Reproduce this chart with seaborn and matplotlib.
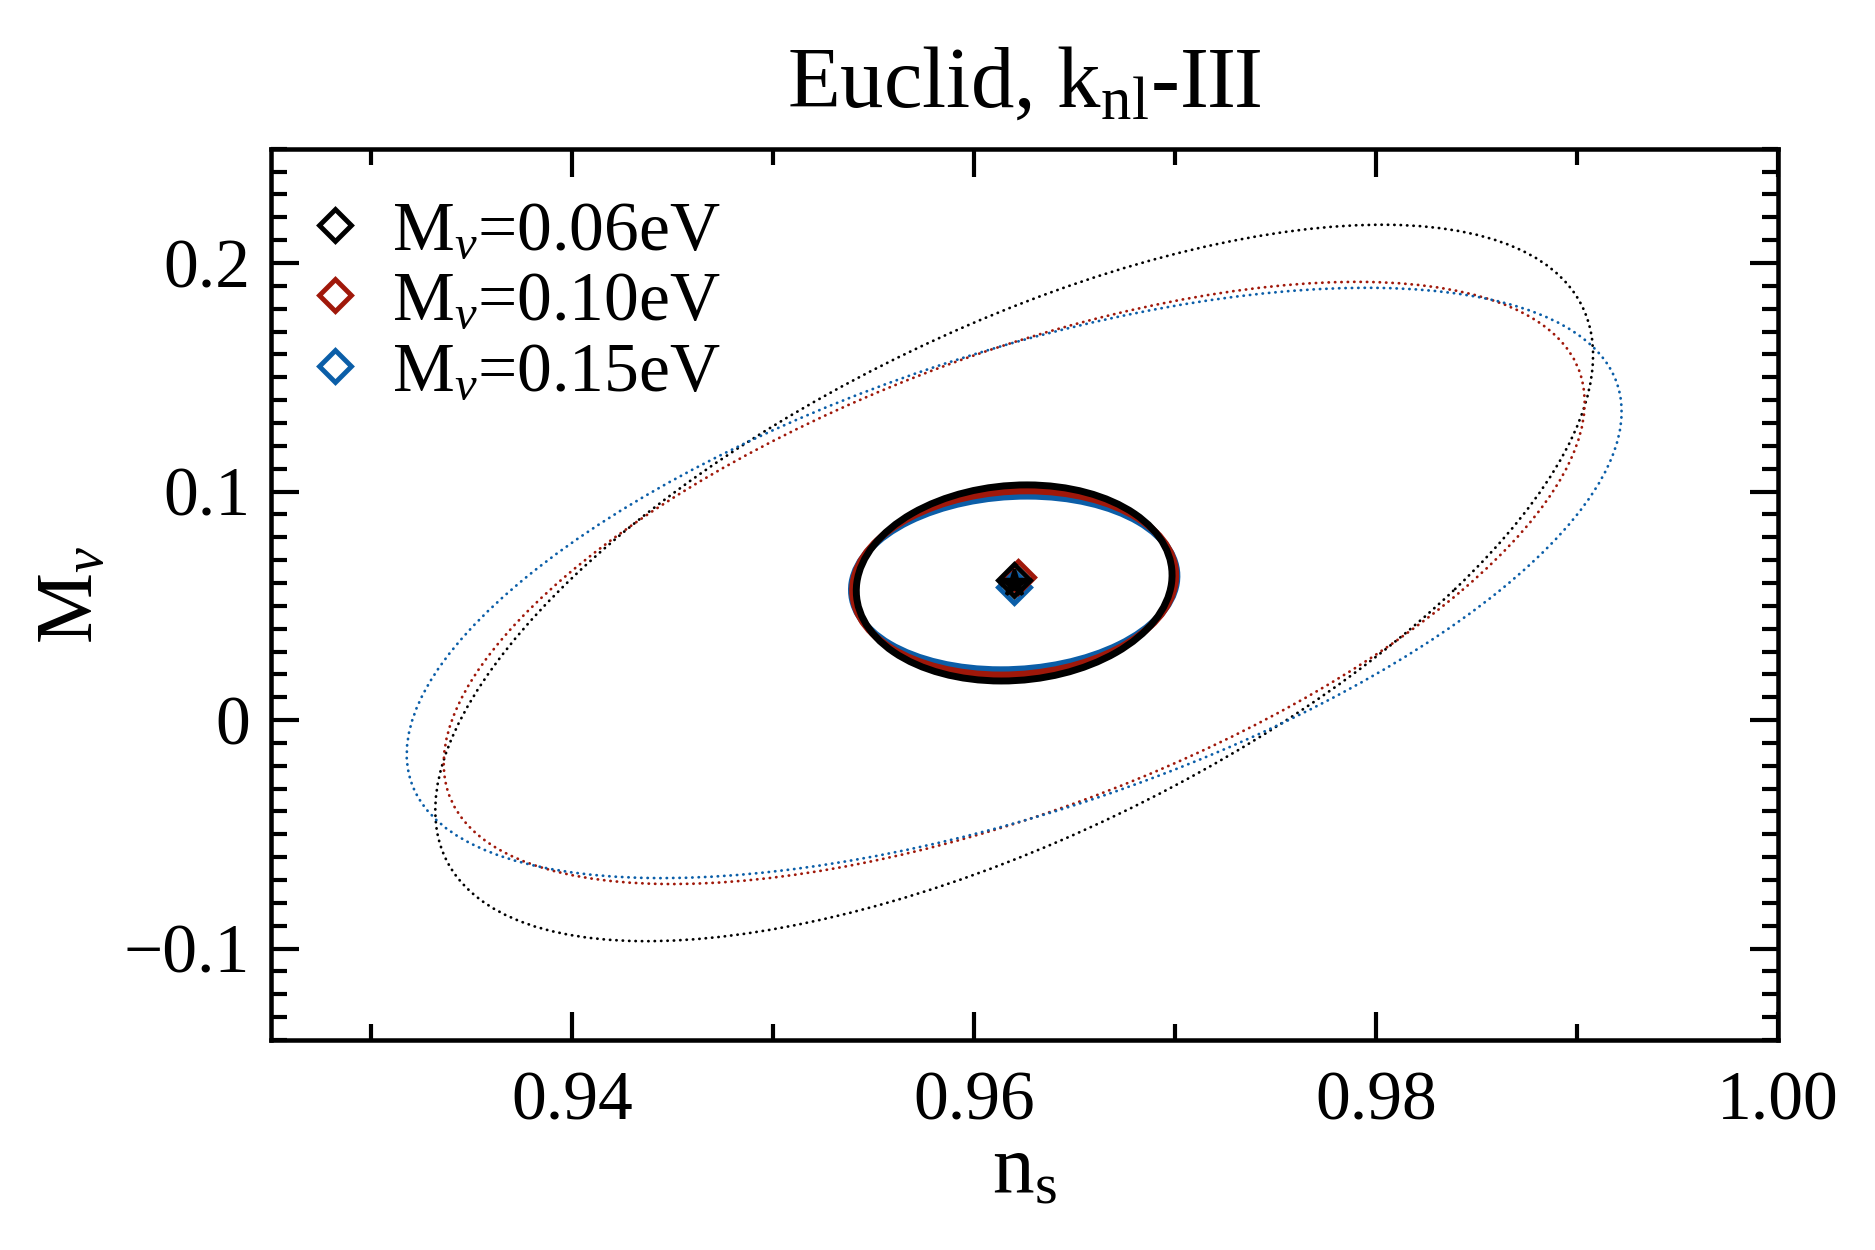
import numpy as np
import seaborn as sns
import matplotlib.pyplot as plt
from matplotlib.patches import Ellipse
from matplotlib.ticker import MultipleLocator

# fiducial point (star) -- all contours are centred on it
ns_fid = 0.962
mnu_fid = 0.06

cases = [r'M$_\nu$=0.06eV', r'M$_\nu$=0.10eV', r'M$_\nu$=0.15eV']
case_colors = ['black', '#a0180a', '#0b5ea8']

# best-fit points (open diamonds)
bf_ns = [0.9620, 0.9622, 0.9620]
bf_mnu = [0.0613, 0.0625, 0.0582]

# inner (solid) contours: 1-sigma extent in each parameter + correlation
inner_sig_ns = [0.00786, 0.00804, 0.00810]
inner_sig_mnu = [0.0429, 0.0403, 0.0380]
inner_rho = [0.08, 0.08, 0.08]

# outer (dotted) contours
outer_sig_ns = [0.02882, 0.02840, 0.03024]
outer_sig_mnu = [0.15675, 0.13175, 0.12915]
outer_rho = [0.635, 0.600, 0.580]

xticks = [0.94, 0.96, 0.98, 1.00]
xtick_labels = ['0.94', '0.96', '0.98', '1.00']
yticks = [-0.1, 0.0, 0.1, 0.2]
ytick_labels = ['\u22120.1', '0', '0.1', '0.2']


def cov_ellipse(ax, x0, y0, sx, sy, rho, **kws):
    cov = np.array([[sx**2, rho * sx * sy], [rho * sx * sy, sy**2]])
    vals, vecs = np.linalg.eigh(cov)
    # eigh is ascending, so the last vector is the major axis
    angle = np.degrees(np.arctan2(vecs[1, 1], vecs[0, 1]))
    e = Ellipse((x0, y0), 2 * np.sqrt(vals[1]), 2 * np.sqrt(vals[0]),
                angle=angle, fill=False, **kws)
    ax.add_patch(e)
    return e


sns.set_theme(style='ticks')
plt.rcParams.update({
    'font.family': ['Liberation Serif', 'DejaVu Serif'],
    'mathtext.fontset': 'custom',
    'mathtext.rm': 'Liberation Serif',
    'mathtext.it': 'Liberation Serif:italic',
    'axes.linewidth': 1.3,
    'axes.edgecolor': 'black',
    'axes.labelcolor': 'black',
    'text.color': 'black',
    'xtick.color': 'black', 'ytick.color': 'black',
})

fig = plt.figure(figsize=(7.5, 5), dpi=250)
ax = fig.add_axes([0.1445, 0.168, 0.8035, 0.713])

for i in range(3):
    cov_ellipse(ax, ns_fid, mnu_fid, outer_sig_ns[i], outer_sig_mnu[i],
                outer_rho[i], edgecolor=case_colors[i], lw=0.8,
                linestyle=(0, (0.1, 2.2)), capstyle='round', zorder=2)

# draw the inner ones blue -> red -> black so black ends on top
for i in [2, 1, 0]:
    cov_ellipse(ax, ns_fid, mnu_fid, inner_sig_ns[i], inner_sig_mnu[i],
                inner_rho[i], edgecolor=case_colors[i], lw=2.0, zorder=3)

handles = {}
for i in [2, 1, 0]:
    h, = ax.plot(bf_ns[i], bf_mnu[i], linestyle='none', marker='D', ms=6.5,
                 mfc='none', mec=case_colors[i], mew=1.4, zorder=4)
    handles[i] = h
ax.plot(ns_fid, mnu_fid, linestyle='none', marker='*', ms=8, color='black',
        zorder=5)

ax.legend([handles[i] for i in range(3)], cases, loc='upper left',
          bbox_to_anchor=(0.0, 0.985),
          frameon=False, fontsize=20, handlelength=0.75, handletextpad=0.45,
          labelspacing=0.1, borderaxespad=0.25, borderpad=0.3, numpoints=1)

ax.set_xlim(0.925, 1.0)
ax.set_ylim(-0.14, 0.25)
ax.set_xticks(xticks, labels=xtick_labels)
ax.set_yticks(yticks, labels=ytick_labels)
ax.xaxis.set_minor_locator(MultipleLocator(0.01))
ax.yaxis.set_minor_locator(MultipleLocator(0.01))
ax.tick_params(which='both', direction='in', top=True, right=True,
               labelsize=20)
ax.tick_params(which='major', length=8, width=1.2)
ax.tick_params(which='minor', length=4.5, width=1.2)
ax.tick_params(axis='x', which='major', pad=9)
ax.tick_params(axis='y', which='major', pad=6)

ax.set_xlabel(r'n$_{\rm s}$', fontsize=24, labelpad=0)
ax.set_ylabel(r'M$_\nu$', fontsize=23, labelpad=4)
ax.set_title(r'Euclid, k$_{\rm nl}$-III', fontsize=25, pad=12)

plt.savefig('out.png', dpi=250)
plt.close()
